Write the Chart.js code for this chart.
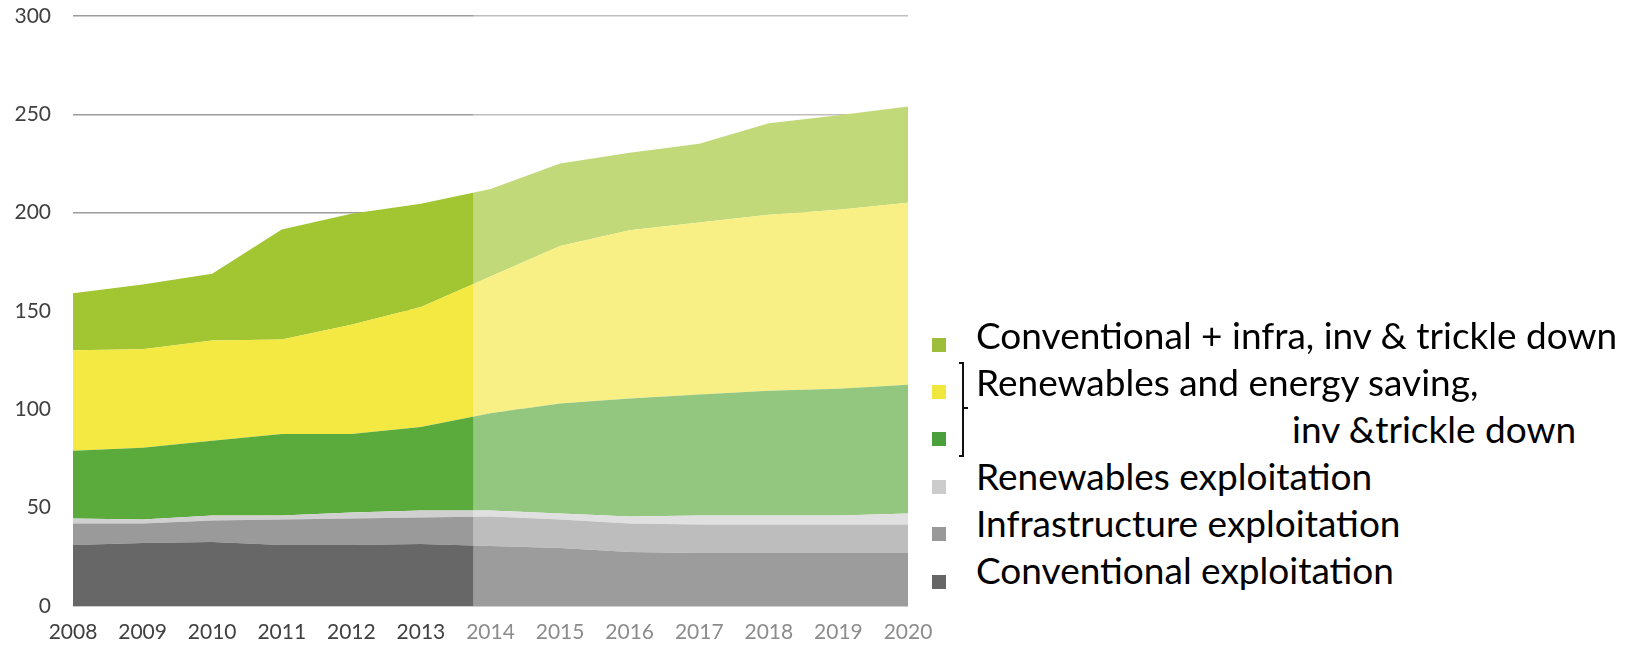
<!DOCTYPE html>
<html>
<head>
<meta charset="utf-8">
<title>Investment and exploitation 2008-2020</title>
<script src="https://cdn.jsdelivr.net/npm/chart.js"></script>
<style>
  html, body { margin: 0; padding: 0; background: #fff; }
  body { width: 1639px; height: 646px; position: relative; overflow: hidden; font-family: Lato, "Open Sans", sans-serif; }
  #chartBox { position: absolute; left: 0; top: 0; width: 960px; height: 646px; }
  .legend-row { position: absolute; left: 976px; font-size: 37px; line-height: 47px; color: #000; white-space: nowrap; }
  .swatch { position: absolute; left: 932px; width: 14px; height: 14px; }
  .bracket { position: absolute; left: 959px; top: 362px; width: 3px; height: 91px; border: 2px solid #111; border-left: none; }
  .bracket-nub { position: absolute; left: 963px; top: 407px; width: 5px; border-top: 2px solid #111; }
</style>
</head>
<body>
<div id="chartBox"><canvas id="areaChart"></canvas></div>

<!-- legend -->
<div class="swatch" style="top:338px;background:#9cbe3a"></div>
<div class="legend-row" style="top:311px">Conventional + infra, inv &amp; trickle down</div>
<div class="swatch" style="top:385px;background:#f0e63c"></div>
<div class="legend-row" style="top:358px">Renewables and energy saving,</div>
<div class="swatch" style="top:432px;background:#4ba03c"></div>
<div class="legend-row" style="top:405px;left:1292px">inv &amp;trickle down</div>
<div class="bracket"></div>
<div class="bracket-nub"></div>
<div class="swatch" style="top:480px;background:#cccccc"></div>
<div class="legend-row" style="top:452px">Renewables exploitation</div>
<div class="swatch" style="top:527px;background:#999999"></div>
<div class="legend-row" style="top:499px">Infrastructure exploitation</div>
<div class="swatch" style="top:575px;background:#666666"></div>
<div class="legend-row" style="top:546px">Conventional exploitation</div>

<script>
// years on the x axis
const years = [2008, 2009, 2010, 2011, 2012, 2013, 2014, 2015, 2016, 2017, 2018, 2019, 2020];

// stacked layers, bottom to top
const conventionalExpl = [31, 32, 32.5, 31, 31, 31.5, 30.5, 29.5, 27.5, 27, 27, 27, 27];
const infraExpl = [11, 10, 11, 13, 13.5, 13.5, 15, 14.5, 14.5, 14.5, 14.5, 14.5, 14.5];
const renewExpl = [2.5, 2, 2.5, 2, 3, 3.5, 3, 3, 3.5, 4.5, 4.5, 4.5, 5.5];
const renewInvTrickle = [34.5, 36.5, 38, 41.5, 40, 42.5, 49.5, 56, 60, 61.5, 63.5, 64.5, 65.5];
const renewSaving = [51, 50, 51, 48, 55.5, 61, 69.5, 80, 85.5, 87.5, 89.5, 91, 92.5];
const conventionalInv = [29, 33, 34, 56, 56.5, 52.5, 44.5, 42, 39.5, 40, 46.5, 48, 49];

const yTicks = [0, 50, 100, 150, 200, 250, 300];

// everything right of this point is shown as a forecast (washed out)
const projectionStart = 2013.75;

function layer(label, values, color, first) {
    return {
        label: label,
        data: years.map((y, i) => ({ x: y, y: values[i] })),
        backgroundColor: color,
        borderWidth: 0,
        pointRadius: 0,
        tension: 0,
        fill: first ? 'origin' : '-1'
    };
}

// white wash over the projection years
const projectionShade = {
    id: 'projectionShade',
    afterDatasetsDraw(chart) {
        const area = chart.chartArea;
        const x0 = chart.scales.x.getPixelForValue(projectionStart);
        const ctx = chart.ctx;
        ctx.save();
        ctx.fillStyle = 'rgba(255,255,255,0.35)';
        ctx.fillRect(x0, area.top - 2, area.right - x0, area.bottom - area.top + 2);
        ctx.restore();
    }
};

new Chart(document.getElementById('areaChart'), {
    type: 'line',
    data: {
        datasets: [
            layer('Conventional exploitation', conventionalExpl, '#676767', true),
            layer('Infrastructure exploitation', infraExpl, '#9a9a9a'),
            layer('Renewables exploitation', renewExpl, '#d0d0d0'),
            layer('Renewables inv & trickle down', renewInvTrickle, '#5aaa3c'),
            layer('Renewables and energy saving', renewSaving, '#f4e842'),
            layer('Conventional + infra, inv & trickle down', conventionalInv, '#a2c532')
        ]
    },
    options: {
        responsive: true,
        maintainAspectRatio: false,
        animation: false,
        layout: { padding: { top: 16, right: 52, left: 0, bottom: 0 } },
        plugins: {
            legend: { display: false },
            tooltip: { enabled: false }
        },
        scales: {
            x: {
                type: 'linear',
                min: years[0],
                max: years[years.length - 1],
                grid: { display: false, drawTicks: false },
                border: { display: false },
                ticks: {
                    stepSize: 1,
                    padding: 14,
                    font: { family: 'Lato', size: 21 },
                    color: (c) => (c.tick && c.tick.value >= projectionStart ? '#8c8c8c' : '#404040'),
                    callback: (v) => String(v)
                },
                afterFit: (scale) => { scale.height = 40; }
            },
            y: {
                stacked: true,
                min: 0,
                max: 300,
                grid: { color: '#9c9c9c', lineWidth: 1.6, drawTicks: false },
                border: { display: false },
                afterBuildTicks: (scale) => { scale.ticks = yTicks.map(v => ({ value: v })); },
                ticks: {
                    padding: 22,
                    font: { family: 'Lato', size: 21 },
                    color: '#404040'
                },
                afterFit: (scale) => {
                    // fixed axis width; don't let the label padding push the plot down
                    scale.width = 73;
                    scale.paddingTop = 0;
                    scale.paddingBottom = 0;
                }
            }
        }
    },
    plugins: [projectionShade]
});
</script>
</body>
</html>
